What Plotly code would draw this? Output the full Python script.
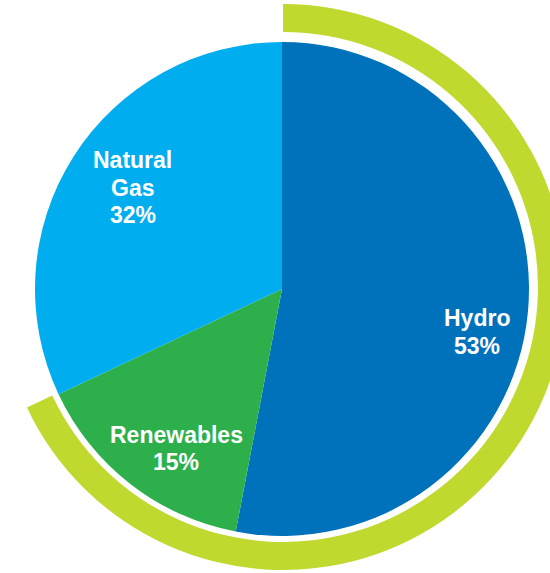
import math
import plotly.graph_objects as go

# Data
categories = ["Hydro", "Renewables", "Natural Gas"]
shares = [53, 15, 32]
slice_colors = ["#0072BC", "#2DB04B", "#00AEEF"]

ring_parts = ["Hydro + Renewables", "Natural Gas"]
ring_values = [68, 32]
ring_colors = ["#C1D82F", "rgba(0,0,0,0)"]

# Figure geometry (pixels)
W, H = 566, 573
PIE_CX, PIE_CY, PIE_R = 282, 289, 247
RING_CX, RING_CY, RING_R = 283, 287, 283
RING_HOLE = 0.901

# label placement style: radius fraction and angular nudge (deg)
label_rfrac = [0.81, 0.775, 0.73]
label_shift = [7.0, -4.3, 1.8]
LINE_GAP = 27.5
FONT_SIZE = 23


def dom_x(cx, r):
    return [(cx - r) / W, (cx + r) / W]


def dom_y(cy, r):
    return [(H - cy - r) / H, (H - cy + r) / H]


fig = go.Figure()

# Outer ring highlighting the first two slices
fig.add_trace(go.Pie(
    labels=ring_parts, values=ring_values,
    marker=dict(colors=ring_colors, line=dict(width=0)),
    hole=RING_HOLE, sort=False, direction="clockwise", rotation=0,
    textinfo="none", hoverinfo="skip", showlegend=False,
    domain=dict(x=dom_x(RING_CX, RING_R), y=dom_y(RING_CY, RING_R)),
))

# Main pie
fig.add_trace(go.Pie(
    labels=categories, values=shares,
    marker=dict(colors=slice_colors, line=dict(width=0)),
    sort=False, direction="clockwise", rotation=0,
    textinfo="none", showlegend=False,
    domain=dict(x=dom_x(PIE_CX, PIE_R), y=dom_y(PIE_CY, PIE_R)),
))

# Labels, placed from the data's cumulative angles
total = sum(shares)
cum = 0
for i, (cat, val) in enumerate(zip(categories, shares)):
    mid = (cum + val / 2) / total * 360 + label_shift[i]
    cum += val
    rr = PIE_R * label_rfrac[i]
    px = PIE_CX + rr * math.sin(math.radians(mid))
    py = PIE_CY - rr * math.cos(math.radians(mid))
    pct = round(val / total * 100)
    lines = cat.split(" ") + [f"{pct}%"]
    n = len(lines)
    for k, line in enumerate(lines):
        ly = py + (k - (n - 1) / 2) * LINE_GAP
        fig.add_annotation(
            x=px / W, y=1 - ly / H, xref="paper", yref="paper",
            text=f"<b>{line}</b>",
            showarrow=False, xanchor="center", yanchor="middle", align="center",
            font=dict(family="Liberation Sans, Arial, sans-serif", size=FONT_SIZE, color="white"),
        )

fig.update_layout(
    width=W, height=H,
    margin=dict(l=0, r=0, t=0, b=0),
    paper_bgcolor="white", plot_bgcolor="white",
    showlegend=False,
)

fig.write_html(
    "out.html",
    config={"displayModeBar": False},
    post_script="document.body.style.margin='0';document.body.style.overflow='hidden';",
)
